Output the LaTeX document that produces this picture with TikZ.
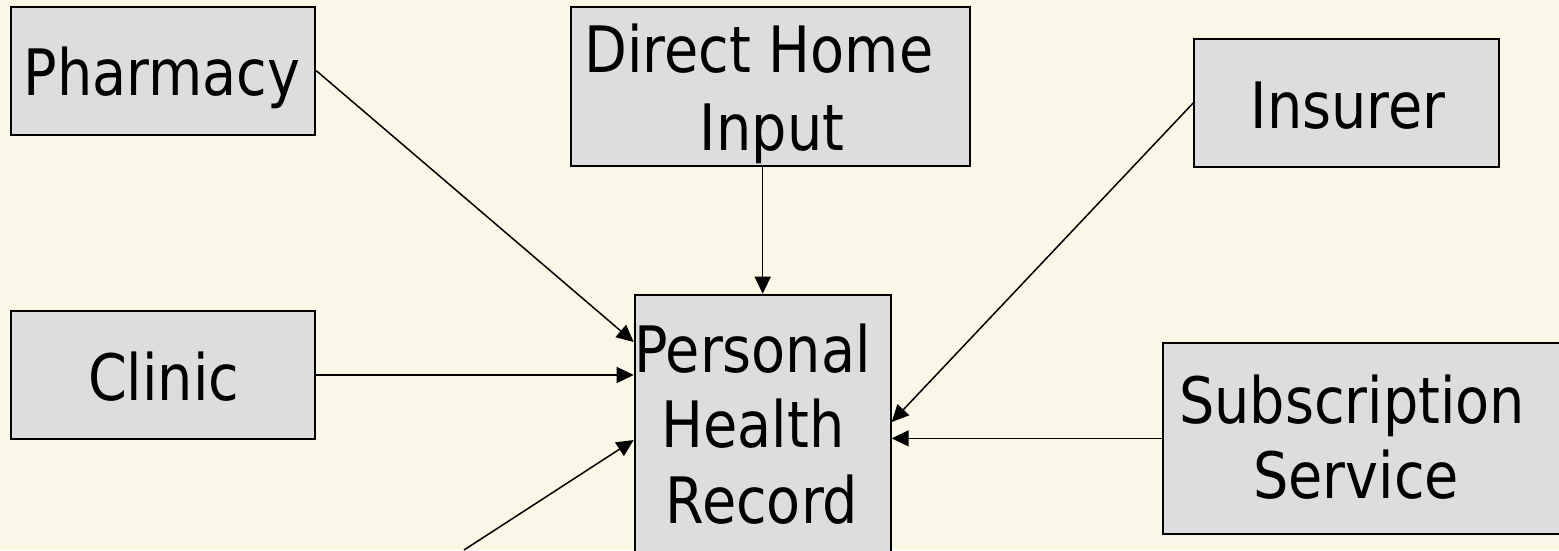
\documentclass[tikz,border=0pt]{standalone}
\usepackage{fontspec}
\setmainfont{DejaVu Sans}[FakeStretch=0.87]
\usetikzlibrary{arrows.meta,calc}
\definecolor{bg}{RGB}{250,247,231}
\definecolor{boxfill}{RGB}{221,221,221}
\begin{document}
\begin{tikzpicture}[x=1pt,y=1pt,
  box/.style={rectangle,draw=black,line width=2pt,fill=boxfill,inner sep=0pt},
  lbl/.style={anchor=base,inner sep=0pt,font=\fontsize{64}{75}\selectfont},
  conn/.style={draw=black,line width=1.5pt,-{Triangle[length=17pt,width=16pt]}}]
\useasboundingbox (0,0) rectangle (1559,-550);
\clip (0,0) rectangle (1559,-550);
\fill[bg] (0,0) rectangle (1559,-550);
% boxes
\node[box,minimum width=304.6,minimum height=128] (pharm) at (163,-70.7) {};
\node[box,minimum width=304.6,minimum height=128] (clinic) at (163,-375) {};
\node[box,minimum width=399.5,minimum height=158.4] (direct) at (770.7,-86.5) {};
\node[box,minimum width=256,minimum height=305.3] (phr) at (762.7,-447.35) {};
\node[box,minimum width=304.6,minimum height=128.4] (ins) at (1346.7,-102.8) {};
\node[box,minimum width=437.3,minimum height=191.3] (sub) at (1381.35,-438.35) {};
% texts
\node[lbl] (tpharm) at (162,-95) {Pharmacy};
\node[lbl] (tclinic) at (163.6,-400) {Clinic};
\node[lbl] (tdir1) at (759,-72) {Direct Home};
\node[lbl] (tdir2) at (772,-150) {Input};
\node[lbl] (tins) at (1348,-128) {Insurer};
\node[lbl] (tphr1) at (752.5,-372) {Personal};
\node[lbl] (tphr2) at (753,-447) {Health};
\node[lbl] (tphr3) at (762,-523) {Record};
\node[lbl] (tsub1) at (1352,-423) {Subscription};
\node[lbl] (tsub2) at (1356,-498) {Service};
% connectors
\coordinate (lowsrc) at (464,-550);
\draw[conn] (pharm.east) -- (phr.west |- 0,-342);
\draw[conn] (clinic.east) -- (phr.west |- clinic.east);
\draw[conn] (lowsrc) -- (phr.west |- 0,-440);
\draw[conn] (direct.south -| phr.north) -- (phr.north);
\draw[conn] (ins.west) -- (phr.east |- 0,-422);
\draw[conn] (sub.west) -- (phr.east |- sub.west);
\end{tikzpicture}
\end{document}
